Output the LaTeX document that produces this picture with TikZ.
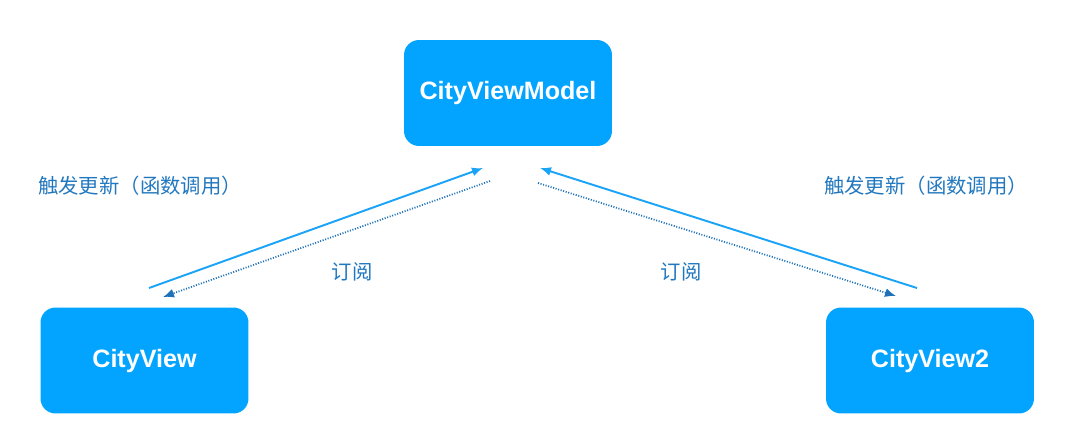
\documentclass[tikz,border=0pt]{standalone}
\usepackage{fontspec}
\setmainfont{Liberation Sans}
\newfontfamily\cjk{Noto Sans CJK SC}
\usetikzlibrary{arrows.meta}

\definecolor{boxblue}{HTML}{03A4FF}
\definecolor{lineblue}{HTML}{1AA3F7}
\definecolor{dotblue}{HTML}{1F72B8}
\definecolor{textblue}{HTML}{2278BF}

\tikzset{
  viewbox/.style={fill=boxblue, rounded corners=0.3cm, minimum width=4.16cm,
    minimum height=2.12cm, text=white, font=\fontsize{14.3}{16}\selectfont\bfseries},
  calltext/.style={text=textblue, font=\cjk\fontsize{11.6}{13}\selectfont},
  callline/.style={color=lineblue, line width=1.1pt, -{Latex[length=2.2mm,width=1.8mm]}},
  subline/.style={color=dotblue, line width=1pt, dash pattern=on 0.6pt off 0.9pt,
    -{Latex[length=2.2mm,width=1.8mm]}}
}

\begin{document}
\begin{tikzpicture}[x=0.02cm, y=-0.02cm]
\useasboundingbox (0, 0) rectangle (1080, 444);

\node [viewbox] (cvm) at (508, 93) {\raisebox{-2pt}{CityViewModel}};
\node [viewbox] (cv) at (144.5, 360.5) {\raisebox{-2pt}{CityView}};
\node [viewbox] (cv2) at (930, 360.5) {\raisebox{-2pt}{CityView2}};

\node [calltext] (lcall) at (140, 186) {触发更新（函数调用）};
\node [calltext] (rcall) at (926, 186) {触发更新（函数调用）};
\node [calltext] (lsub) at (352, 272) {订阅};
\node [calltext] (rsub) at (681, 272) {订阅};

% arrow ends
\coordinate (cvcall) at (149, 288);
\coordinate (cvmleft) at (483, 168);
\coordinate (cvmlsub) at (490, 181);
\coordinate (cvsub) at (163, 297);
\coordinate (cv2call) at (917, 288);
\coordinate (cvmright) at (540, 168);
\coordinate (cvmrsub) at (538, 183);
\coordinate (cv2sub) at (896, 296);

\draw [callline] (cvcall) -- (cvmleft);
\draw [subline] (cvmlsub) -- (cvsub);
\draw [callline] (cv2call) -- (cvmright);
\draw [subline] (cvmrsub) -- (cv2sub);
\end{tikzpicture}
\end{document}
